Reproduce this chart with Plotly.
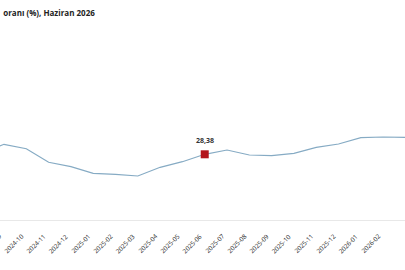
import plotly.graph_objects as go

months = ["2024-08", "2024-09", "2024-10", "2024-11", "2024-12", "2025-01", "2025-02",
          "2025-03", "2025-04", "2025-05", "2025-06", "2025-07", "2025-08", "2025-09",
          "2025-10", "2025-11", "2025-12", "2026-01", "2026-02", "2026-03"]
values = [28.46, 29.38, 28.94, 27.58, 27.14, 26.48, 26.38, 26.21, 27.08, 27.64, 28.38,
          28.81, 28.31, 28.24, 28.48, 29.08, 29.41, 30.04, 30.11, 30.08]
highlight_month = "2025-06"
highlight_value = 28.38
highlight_label = "28,38"
title_text = "oranı (%), Haziran 2026"

fig = go.Figure()
fig.add_trace(go.Scatter(x=months, y=values, mode="lines",
                         line=dict(color="#86abc4", width=1.2), hoverinfo="skip"))
fig.add_trace(go.Scatter(x=[highlight_month], y=[highlight_value], mode="markers",
                         marker=dict(symbol="square", size=8, color="#b3141c"),
                         hoverinfo="skip"))
fig.add_annotation(x=highlight_month, y=highlight_value, text="<b>" + highlight_label + "</b>",
                   showarrow=False, yshift=14,
                   font=dict(family="Open Sans", size=7, color="#333333"))

# tick labels, rotated 45 degrees, ending at each tick
for m in months:
    fig.add_annotation(x=m, y=0, xref="x", yref="paper", text=m, showarrow=False,
                       textangle=-45, xanchor="right", yanchor="top",
                       xshift=2, yshift=-9,
                       font=dict(family="Open Sans", size=6.3, color="#222222"))

fig.update_layout(
    width=405, height=270,
    margin=dict(l=0, r=0, t=30, b=50, autoexpand=False),
    paper_bgcolor="white", plot_bgcolor="white",
    showlegend=False,
    title=dict(text="<b>" + title_text + "</b>", x=0.008, xanchor="left",
               y=0.95, yanchor="middle", yref="container",
               font=dict(family="Open Sans", size=8, color="#222222")),
    xaxis=dict(type="category", range=[0.82, 18.98], automargin=False,
               showgrid=False, showline=True, linecolor="#e8e8e8", linewidth=1,
               showticklabels=False, ticks="", zeroline=False),
    yaxis=dict(range=[21.81, 40.81], visible=False, showgrid=False, zeroline=False,
               automargin=False),
)

fig.write_html("out.html")
